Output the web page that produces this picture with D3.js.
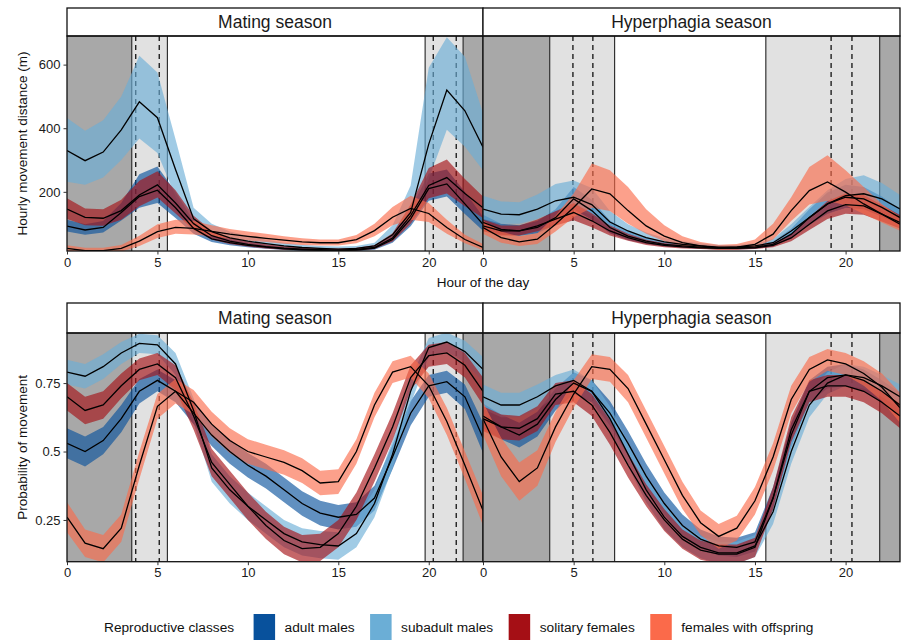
<!DOCTYPE html>
<html>
<head>
<meta charset="utf-8">
<script src="https://cdn.jsdelivr.net/npm/d3@7"></script>
<style>
body { margin: 0; background: #fff; }
text { font-family: "Liberation Sans", Arial, sans-serif; }
</style>
</head>
<body>
<svg width="904" height="640"></svg>
<script>
var hours = [0,1,2,3,4,5,6,7,8,9,10,11,12,13,14,15,16,17,18,19,20,21,22,23];
var classes = ["adult males", "subadult males", "solitary females", "females with offspring"];
var classColors = ["#08519c", "#6baed6", "#a50f15", "#fb6a4a"];
var seasons = ["Mating season", "Hyperphagia season"];
var distTicks = [200, 400, 600];
var probTicks = [0.25, 0.5, 0.75];
var hourTicks = [0, 5, 10, 15, 20];

// night / twilight / sunrise-sunset hours
var nightMating = [[0, 3.58], [21.9, 23]];
var twilightMating = [[3.58, 5.55], [19.8, 21.9]];
var sunMating = [3.8, 5.1, 20.25, 21.52];
var nightHyper = [[0, 3.68], [21.88, 23]];
var twilightHyper = [[3.68, 7.26], [15.6, 21.88]];
var sunHyper = [4.96, 6.06, 19.2, 20.35];

// hourly movement distance (m), mating season
var distMatAM   = [92, 80, 88, 135, 185, 205, 150, 85, 52, 40, 32, 26, 21, 18, 16, 15, 17, 23, 50, 115, 210, 225, 162, 98];
var distMatAMlo = [75, 65, 72, 110, 150, 165, 118, 68, 42, 32, 26, 21, 17, 14, 12, 11, 13, 18, 40, 92, 172, 185, 130, 78];
var distMatAMhi = [112, 98, 108, 165, 255, 280, 200, 108, 65, 50, 40, 32, 26, 22, 19, 18, 21, 29, 62, 145, 258, 270, 200, 122];
var distMatSM   = [330, 298, 325, 395, 483, 433, 270, 115, 75, 55, 45, 37, 30, 25, 22, 20, 22, 30, 65, 135, 350, 520, 455, 340];
var distMatSMlo = [232, 222, 245, 300, 368, 322, 185, 88, 58, 43, 35, 28, 23, 19, 16, 15, 17, 23, 48, 100, 240, 395, 342, 268];
var distMatSMhi = [432, 392, 425, 500, 628, 575, 365, 150, 100, 75, 62, 50, 40, 34, 30, 28, 30, 40, 95, 220, 590, 686, 625, 447];
var distMatSF   = [146, 120, 117, 141, 190, 222, 165, 100, 62, 45, 35, 28, 23, 20, 18, 17, 19, 25, 55, 125, 220, 245, 195, 150];
var distMatSFlo = [115, 95, 93, 112, 155, 182, 132, 80, 50, 36, 28, 22, 18, 16, 14, 13, 15, 20, 44, 100, 180, 195, 155, 118];
var distMatSFhi = [180, 148, 145, 175, 235, 265, 205, 125, 78, 56, 44, 35, 29, 25, 23, 22, 24, 32, 70, 160, 275, 302, 240, 185];
var distMatFO   = [22, 15, 15, 22, 45, 75, 88, 85, 76, 67, 60, 54, 48, 43, 40, 40, 50, 78, 120, 148, 132, 88, 50, 25];
var distMatFOlo = [12, 8, 8, 12, 30, 55, 68, 66, 60, 53, 47, 42, 37, 33, 31, 31, 38, 60, 95, 112, 105, 68, 38, 16];
var distMatFOhi = [32, 24, 24, 33, 62, 98, 112, 108, 95, 83, 75, 68, 60, 54, 50, 50, 64, 100, 152, 188, 165, 112, 65, 36];

// hourly movement distance (m), hyperphagia season
var distHypAM   = [104, 82, 77, 88, 119, 178, 141, 88, 61, 45, 35, 30, 26, 24, 24, 26, 35, 67, 119, 162, 183, 178, 151, 119];
var distHypAMlo = [85, 66, 62, 70, 97, 145, 112, 70, 48, 36, 28, 24, 21, 19, 19, 21, 28, 54, 97, 132, 150, 145, 122, 97];
var distHypAMhi = [128, 100, 95, 108, 145, 215, 175, 110, 77, 57, 44, 38, 33, 30, 30, 33, 44, 84, 145, 198, 222, 215, 185, 145];
var distHypSM   = [146, 130, 128, 146, 172, 183, 160, 105, 77, 56, 43, 35, 30, 26, 26, 30, 40, 77, 119, 162, 188, 194, 178, 146];
var distHypSMlo = [115, 100, 100, 115, 140, 145, 128, 82, 60, 44, 34, 28, 24, 21, 21, 24, 32, 60, 95, 130, 150, 155, 142, 118];
var distHypSMhi = [188, 170, 167, 192, 225, 236, 212, 140, 98, 72, 55, 45, 38, 33, 33, 38, 52, 98, 152, 205, 240, 252, 228, 190];
var distHypSF   = [93, 77, 77, 93, 114, 135, 109, 77, 56, 40, 32, 27, 24, 22, 22, 24, 32, 55, 98, 140, 160, 156, 130, 104];
var distHypSFlo = [76, 63, 63, 76, 94, 111, 89, 63, 46, 33, 26, 22, 20, 18, 18, 20, 26, 45, 80, 115, 131, 128, 107, 85];
var distHypSFhi = [113, 94, 94, 113, 139, 165, 133, 94, 68, 49, 39, 33, 29, 27, 27, 29, 39, 67, 120, 171, 195, 190, 159, 127];
var distHypFO   = [88, 56, 43, 51, 98, 151, 209, 194, 141, 93, 61, 40, 30, 24, 26, 35, 67, 141, 204, 231, 199, 162, 130, 98];
var distHypFOlo = [68, 40, 30, 36, 75, 120, 150, 140, 100, 68, 45, 30, 22, 18, 19, 26, 50, 108, 160, 172, 158, 130, 104, 78];
var distHypFOhi = [110, 75, 60, 70, 125, 195, 289, 268, 215, 145, 95, 60, 42, 34, 36, 50, 100, 183, 278, 315, 268, 215, 162, 122];

// probability of movement, mating season (mean and ribbon half-width)
var probMatAM     = [0.53, 0.5, 0.54, 0.62, 0.72, 0.76, 0.72, 0.64, 0.56, 0.5, 0.45, 0.41, 0.36, 0.31, 0.275, 0.26, 0.27, 0.33, 0.48, 0.64, 0.74, 0.755, 0.7, 0.55];
var probMatAMhalf = [0.055, 0.055, 0.05, 0.05, 0.045, 0.04, 0.04, 0.04, 0.04, 0.045, 0.045, 0.045, 0.045, 0.045, 0.045, 0.045, 0.045, 0.045, 0.045, 0.045, 0.04, 0.04, 0.045, 0.055];
var probMatSM     = [0.79, 0.775, 0.81, 0.86, 0.895, 0.89, 0.82, 0.65, 0.44, 0.36, 0.3, 0.25, 0.2, 0.17, 0.16, 0.155, 0.2, 0.31, 0.49, 0.72, 0.88, 0.9, 0.865, 0.8];
var probMatSMhalf = [0.045, 0.045, 0.045, 0.04, 0.035, 0.035, 0.04, 0.045, 0.05, 0.05, 0.05, 0.05, 0.05, 0.05, 0.05, 0.05, 0.05, 0.05, 0.05, 0.045, 0.035, 0.035, 0.04, 0.045];
var probMatSF     = [0.7, 0.65, 0.67, 0.74, 0.8, 0.82, 0.77, 0.63, 0.46, 0.38, 0.3, 0.23, 0.175, 0.145, 0.15, 0.2, 0.3, 0.44, 0.59, 0.77, 0.85, 0.86, 0.815, 0.72];
var probMatSFhalf = [0.05, 0.05, 0.05, 0.045, 0.04, 0.04, 0.045, 0.05, 0.05, 0.05, 0.05, 0.05, 0.05, 0.05, 0.05, 0.05, 0.05, 0.05, 0.05, 0.045, 0.04, 0.04, 0.045, 0.05];
var probMatFO     = [0.26, 0.165, 0.145, 0.22, 0.45, 0.665, 0.72, 0.68, 0.6, 0.54, 0.5, 0.48, 0.46, 0.43, 0.385, 0.39, 0.5, 0.67, 0.79, 0.81, 0.74, 0.61, 0.45, 0.285];
var probMatFOhalf = [0.055, 0.05, 0.05, 0.05, 0.05, 0.045, 0.045, 0.045, 0.045, 0.045, 0.045, 0.045, 0.045, 0.045, 0.045, 0.045, 0.045, 0.045, 0.04, 0.04, 0.045, 0.05, 0.05, 0.055];

// probability of movement, hyperphagia season
var probHypAM     = [0.63, 0.59, 0.56, 0.6, 0.69, 0.75, 0.72, 0.64, 0.53, 0.41, 0.31, 0.23, 0.18, 0.155, 0.15, 0.17, 0.33, 0.56, 0.72, 0.77, 0.78, 0.76, 0.72, 0.67];
var probHypAMhalf = [0.045, 0.045, 0.045, 0.045, 0.04, 0.04, 0.04, 0.045, 0.045, 0.045, 0.04, 0.04, 0.035, 0.035, 0.035, 0.035, 0.04, 0.045, 0.04, 0.04, 0.04, 0.04, 0.04, 0.045];
var probHypSM     = [0.7, 0.67, 0.67, 0.7, 0.74, 0.76, 0.72, 0.62, 0.49, 0.36, 0.26, 0.19, 0.15, 0.13, 0.13, 0.155, 0.28, 0.5, 0.67, 0.75, 0.78, 0.77, 0.74, 0.7];
var probHypSMhalf = [0.045, 0.045, 0.045, 0.045, 0.04, 0.04, 0.04, 0.045, 0.045, 0.045, 0.045, 0.04, 0.04, 0.04, 0.04, 0.04, 0.045, 0.045, 0.045, 0.04, 0.04, 0.04, 0.04, 0.045];
var probHypSF     = [0.62, 0.59, 0.585, 0.62, 0.71, 0.72, 0.67, 0.57, 0.45, 0.34, 0.25, 0.18, 0.14, 0.125, 0.125, 0.15, 0.33, 0.58, 0.72, 0.74, 0.74, 0.72, 0.68, 0.63];
var probHypSFhalf = [0.045, 0.045, 0.045, 0.045, 0.04, 0.04, 0.04, 0.045, 0.045, 0.04, 0.04, 0.035, 0.035, 0.035, 0.035, 0.035, 0.04, 0.045, 0.04, 0.04, 0.04, 0.04, 0.04, 0.045];
var probHypFO     = [0.62, 0.48, 0.39, 0.44, 0.59, 0.71, 0.81, 0.8, 0.73, 0.6, 0.47, 0.34, 0.24, 0.19, 0.22, 0.32, 0.48, 0.69, 0.8, 0.835, 0.82, 0.785, 0.735, 0.66];
var probHypFOhalf = [0.06, 0.07, 0.07, 0.065, 0.055, 0.05, 0.045, 0.045, 0.05, 0.05, 0.05, 0.05, 0.045, 0.045, 0.045, 0.05, 0.05, 0.05, 0.045, 0.04, 0.04, 0.045, 0.05, 0.055];

var svg = d3.select("svg");

var cols = [{x0: 67, x1: 483}, {x0: 483, x1: 900}];
var rows = [{strip: 8, top: 36, bottom: 251}, {strip: 303, top: 333, bottom: 561.7}];

var yDist = d3.scaleLinear().domain([14, 690]).range([rows[0].bottom, rows[0].top]);
var yProb = d3.scaleLinear().domain([0.0975, 0.933]).range([rows[1].bottom, rows[1].top]);

function band(mean, lo, hi) {
  return hours.map(function(h, i) { return {h: h, m: mean[i], lo: lo[i], hi: hi[i]}; });
}
function bandHalf(mean, half) {
  return hours.map(function(h, i) { return {h: h, m: mean[i], lo: mean[i] - half[i], hi: mean[i] + half[i]}; });
}

var panels = [
  {row: 0, col: 0, y: yDist, night: nightMating, twilight: twilightMating, sun: sunMating,
   series: [band(distMatAM, distMatAMlo, distMatAMhi), band(distMatSM, distMatSMlo, distMatSMhi),
            band(distMatSF, distMatSFlo, distMatSFhi), band(distMatFO, distMatFOlo, distMatFOhi)]},
  {row: 0, col: 1, y: yDist, night: nightHyper, twilight: twilightHyper, sun: sunHyper,
   series: [band(distHypAM, distHypAMlo, distHypAMhi), band(distHypSM, distHypSMlo, distHypSMhi),
            band(distHypSF, distHypSFlo, distHypSFhi), band(distHypFO, distHypFOlo, distHypFOhi)]},
  {row: 1, col: 0, y: yProb, night: nightMating, twilight: twilightMating, sun: sunMating,
   series: [bandHalf(probMatAM, probMatAMhalf), bandHalf(probMatSM, probMatSMhalf),
            bandHalf(probMatSF, probMatSFhalf), bandHalf(probMatFO, probMatFOhalf)]},
  {row: 1, col: 1, y: yProb, night: nightHyper, twilight: twilightHyper, sun: sunHyper,
   series: [bandHalf(probHypAM, probHypAMhalf), bandHalf(probHypSM, probHypSMhalf),
            bandHalf(probHypSF, probHypSFhalf), bandHalf(probHypFO, probHypFOhalf)]}
];

panels.forEach(function(p, pi) {
  var c = cols[p.col], r = rows[p.row];
  var x = d3.scaleLinear().domain([0, 23]).range([c.x0, c.x1]);
  var y = p.y;

  svg.append("clipPath").attr("id", "clip" + pi)
    .append("rect").attr("x", c.x0).attr("y", r.top)
    .attr("width", c.x1 - c.x0).attr("height", r.bottom - r.top);

  var g = svg.append("g").attr("clip-path", "url(#clip" + pi + ")");

  g.selectAll("rect.night").data(p.night).enter().append("rect")
    .attr("x", function(d) { return x(d[0]); })
    .attr("width", function(d) { return x(d[1]) - x(d[0]); })
    .attr("y", r.top).attr("height", r.bottom - r.top)
    .attr("fill", "#a8a8a8");
  g.selectAll("rect.twi").data(p.twilight).enter().append("rect")
    .attr("x", function(d) { return x(d[0]); })
    .attr("width", function(d) { return x(d[1]) - x(d[0]); })
    .attr("y", r.top).attr("height", r.bottom - r.top)
    .attr("fill", "#e1e1e1");

  var edges = [];
  p.twilight.forEach(function(d) { edges.push(d[0], d[1]); });
  g.selectAll("line.edge").data(edges).enter().append("line")
    .attr("x1", function(d) { return x(d); }).attr("x2", function(d) { return x(d); })
    .attr("y1", r.top).attr("y2", r.bottom)
    .attr("stroke", "#222").attr("stroke-width", 1.1);
  g.selectAll("line.sun").data(p.sun).enter().append("line")
    .attr("x1", function(d) { return x(d); }).attr("x2", function(d) { return x(d); })
    .attr("y1", r.top).attr("y2", r.bottom)
    .attr("stroke", "#111").attr("stroke-width", 1.3)
    .attr("stroke-dasharray", "5,4");

  var area = d3.area()
    .x(function(d) { return x(d.h); })
    .y0(function(d) { return y(d.lo); })
    .y1(function(d) { return y(d.hi); });
  var line = d3.line()
    .x(function(d) { return x(d.h); })
    .y(function(d) { return y(d.m); });

  p.series.forEach(function(s, si) {
    g.append("path").datum(s).attr("d", area)
      .attr("fill", classColors[si]).attr("fill-opacity", 0.64);
  });
  p.series.forEach(function(s) {
    g.append("path").datum(s).attr("d", line)
      .attr("fill", "none").attr("stroke", "#000").attr("stroke-width", 1.3);
  });

  // strip
  svg.append("rect").attr("x", c.x0).attr("y", r.strip)
    .attr("width", c.x1 - c.x0).attr("height", r.top - r.strip)
    .attr("fill", "#fff").attr("stroke", "#111").attr("stroke-width", 1.3);
  svg.append("text").attr("x", (c.x0 + c.x1) / 2).attr("y", (r.strip + r.top) / 2 + 6)
    .attr("text-anchor", "middle").attr("font-size", 17.5).attr("fill", "#1a1a1a")
    .text(seasons[p.col]);

  // border
  svg.append("rect").attr("x", c.x0).attr("y", r.top)
    .attr("width", c.x1 - c.x0).attr("height", r.bottom - r.top)
    .attr("fill", "none").attr("stroke", "#111").attr("stroke-width", 1.3);

  // x axis
  var xAxis = d3.axisBottom(x).tickValues(hourTicks).tickSize(3.5).tickPadding(3);
  var gx = svg.append("g").attr("transform", "translate(0," + r.bottom + ")").call(xAxis);
  gx.select(".domain").remove();
  gx.selectAll("line").attr("stroke", "#333");
  gx.selectAll("text").attr("font-size", 13).attr("fill", "#1a1a1a")
    .attr("font-family", "Liberation Sans, Arial, sans-serif");

  // y axis on left panels
  if (p.col === 0) {
    var yAxis = d3.axisLeft(y).tickValues(p.row === 0 ? distTicks : probTicks)
      .tickSize(3.5).tickPadding(3)
      .tickFormat(function(d) { return String(d); });
    var gy = svg.append("g").attr("transform", "translate(" + c.x0 + ",0)").call(yAxis);
    gy.select(".domain").remove();
    gy.selectAll("line").attr("stroke", "#333");
    gy.selectAll("text").attr("font-size", 13).attr("fill", "#1a1a1a")
      .attr("font-family", "Liberation Sans, Arial, sans-serif");
  }
});

// axis titles
svg.append("text").attr("x", 483).attr("y", 287).attr("text-anchor", "middle")
  .attr("font-size", 13.5).attr("fill", "#111").text("Hour of the day");
svg.append("text").attr("transform", "translate(27," + (rows[0].top + rows[0].bottom) / 2 + ") rotate(-90)")
  .attr("text-anchor", "middle").attr("font-size", 13.5).attr("fill", "#111")
  .text("Hourly movement distance (m)");
svg.append("text").attr("transform", "translate(27," + (rows[1].top + rows[1].bottom) / 2 + ") rotate(-90)")
  .attr("text-anchor", "middle").attr("font-size", 13.5).attr("fill", "#111")
  .text("Probability of movement");

// legend
var legend = svg.append("g").attr("transform", "translate(104,0)");
var lx = 0;
var title = legend.append("text").attr("x", lx).attr("y", 632).attr("font-size", 13.7)
  .attr("fill", "#111").text("Reproductive classes");
lx += title.node().getComputedTextLength() + 19.5;
classes.forEach(function(name, i) {
  legend.append("rect").attr("x", lx).attr("y", 614).attr("width", 21.5).attr("height", 26)
    .attr("fill", classColors[i]);
  lx += 21.5 + 9.5;
  var t = legend.append("text").attr("x", lx).attr("y", 632).attr("font-size", 13.7)
    .attr("fill", "#111").text(name);
  lx += t.node().getComputedTextLength() + 15.5;
});
</script>
</body>
</html>
